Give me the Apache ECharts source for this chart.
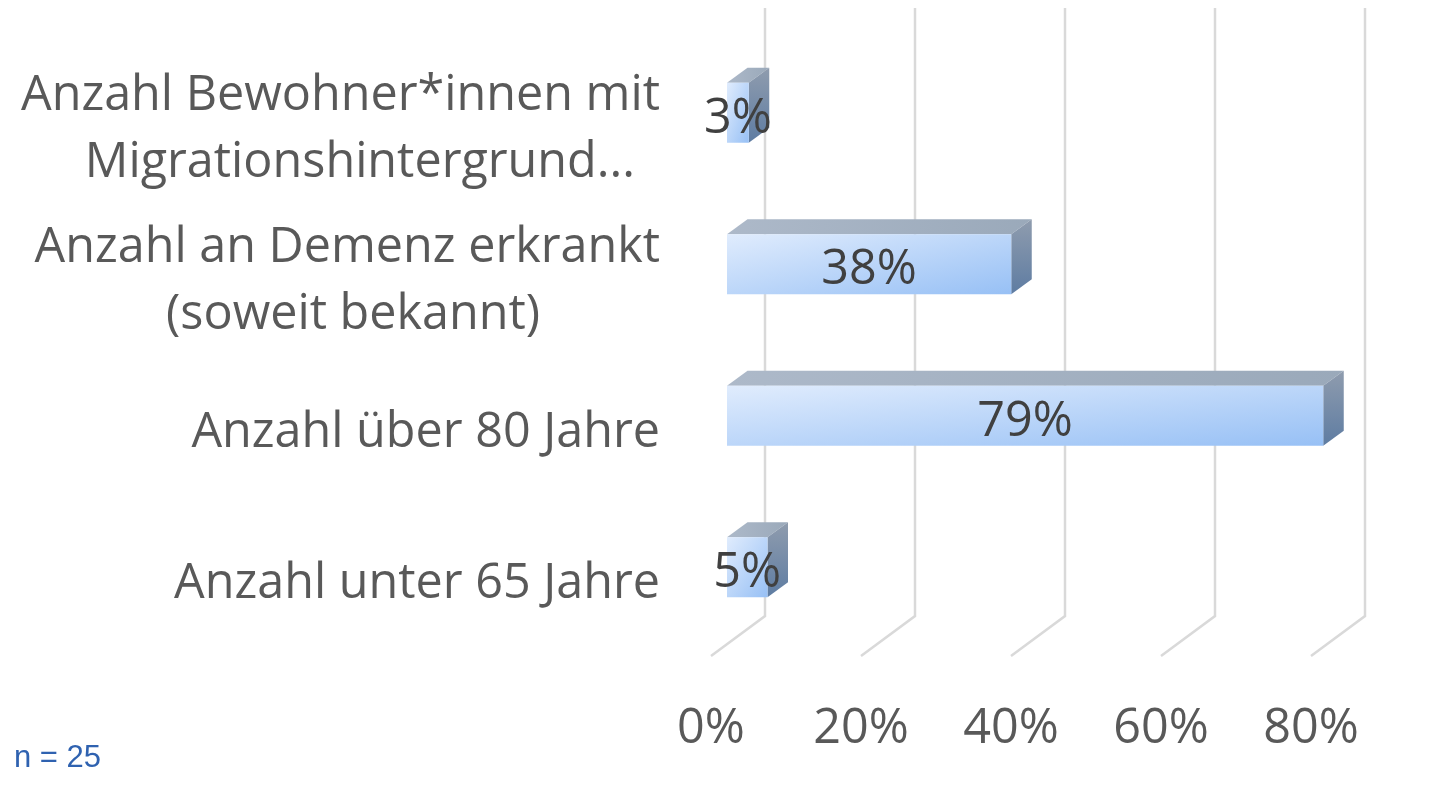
<!DOCTYPE html>
<html><head><meta charset="utf-8">
<style>html,body{margin:0;padding:0;background:#fff}#c{width:1433px;height:785px}</style>
<script src="https://cdn.jsdelivr.net/npm/echarts@6/dist/echarts.min.js"></script>
</head><body><div id="c"></div>
<script>
const categories = ['Anzahl Bewohner*innen mit\nMigrationshintergrund...', 'Anzahl an Demenz erkrankt\n(soweit bekannt)', 'Anzahl über 80 Jahre', 'Anzahl unter 65 Jahre'];
const shares = [2.9, 37.9, 79.5, 5.4];
const shareLabels = ['3%', '38%', '79%', '5%'];
const tickValues = [0, 20, 40, 60, 80];
const noteText = 'n = 25';

const FONT = '"Open Sans"';
const depthX = 20.5, depthY = 15, barOffsetX = 16, barOffsetY = -13, barHalf = 30;
const wallX = 54, wallY = 40, wallTop = 8;
const secondLineStyle = {0: 'b', 1: 'c'};

const chart = echarts.init(document.getElementById('c'));
const grad = (x, y, x2, y2, a, b) => new echarts.graphic.LinearGradient(x, y, x2, y2, [{offset: 0, color: a}, {offset: 1, color: b}]);
// Office-style scaled diagonal gradient: isolines run along the anti-diagonal of the box
const scaledDiag = (x, y, w, h, a, b) => {
  const s = 2 * w * h / (w * w + h * h);
  return new echarts.graphic.LinearGradient(x, y, x + s * h, y + s * w, [{offset: 0, color: a}, {offset: 1, color: b}], true);
};

chart.setOption({
  animation: false,
  backgroundColor: '#fff',
  grid: {left: 711, width: 600, top: 50, height: 606, containLabel: false, outerBoundsMode: 'none'},
  xAxis: {
    type: 'value', min: 0, max: 80, interval: 20,
    axisLine: {show: false}, axisTick: {show: false}, splitLine: {show: false},
    axisLabel: {formatter: '{value}%', fontFamily: FONT, fontSize: 48.5, color: '#595959', margin: 49}
  },
  yAxis: {
    type: 'category', inverse: true, data: categories,
    axisLine: {show: false}, axisTick: {show: false}, splitLine: {show: false},
    axisLabel: {
      interval: 0, margin: 51, align: 'right', padding: [8, 0, 0, 0],
      formatter: (v, i) => v.split('\n').map((l, k) => `{${k ? secondLineStyle[i] : 'a'}|${l}}`).join('\n'),
      rich: {
        a: {fontFamily: FONT, fontSize: 48.5, color: '#595959', lineHeight: 67},
        b: {fontFamily: FONT, fontSize: 48.5, color: '#595959', lineHeight: 67, padding: [0, 25, 0, 0]},
        c: {fontFamily: FONT, fontSize: 48.5, color: '#595959', lineHeight: 67, padding: [0, 120, 0, 0]}
      }
    }
  },
  series: [
    {
      type: 'custom', z: 1, silent: true, coordinateSystem: 'cartesian2d',
      data: tickValues.map(v => [v, 0]),
      encode: {x: 0},
      clip: false,
      renderItem: (p, api) => {
        const x = api.coord([api.value(0), categories[0]])[0];
        const b = p.coordSys.y + p.coordSys.height;
        return {type: 'polyline', shape: {points: [[x + wallX, wallTop], [x + wallX, b - wallY], [x, b]]},
          style: {stroke: '#d9d9d9', lineWidth: 2.5, fill: null}};
      }
    },
    {
      type: 'custom', z: 2, silent: true, coordinateSystem: 'cartesian2d',
      data: shares.map((v, i) => [v, i, shareLabels[i]]),
      encode: {x: 0, y: 1},
      clip: false,
      renderItem: (p, api) => {
        const end = api.coord([api.value(0), api.value(1)]);
        const start = api.coord([0, api.value(1)]);
        const x0 = start[0] + barOffsetX, x1 = end[0] + barOffsetX;
        const yc = end[1] + barOffsetY, t = yc - barHalf, bt = yc + barHalf;
        return {type: 'group', children: [
          {type: 'polygon', shape: {points: [[x0, t], [x1, t], [x1 + depthX, t - depthY], [x0 + depthX, t - depthY]]},
            style: {fill: grad(0, 0, 1, 0, '#adb9c9', '#9aa9ba')}},
          {type: 'polygon', shape: {points: [[x1, t], [x1 + depthX, t - depthY], [x1 + depthX, bt - depthY], [x1, bt]]},
            style: {fill: grad(0, 0, 0, 1, '#8f9cae', '#5e7ca2')}},
          {type: 'rect', shape: {x: x0, y: t, width: x1 - x0, height: bt - t},
            style: {fill: scaledDiag(x0, t, x1 - x0, bt - t, '#e0ecfd', '#97c0f5')}},
          {type: 'text', style: {text: api.value(2), x: (x0 + x1) / 2, y: yc + 6, align: 'center', verticalAlign: 'middle',
            fontFamily: FONT, fontSize: 48.5, fill: '#404040'}}
        ]};
      }
    }
  ],
  graphic: [{type: 'text', left: 14, top: 743, style: {text: noteText, fontFamily: '"Liberation Sans"', fontSize: 31, fill: '#2f62b0'}}]
});
</script></body></html>
